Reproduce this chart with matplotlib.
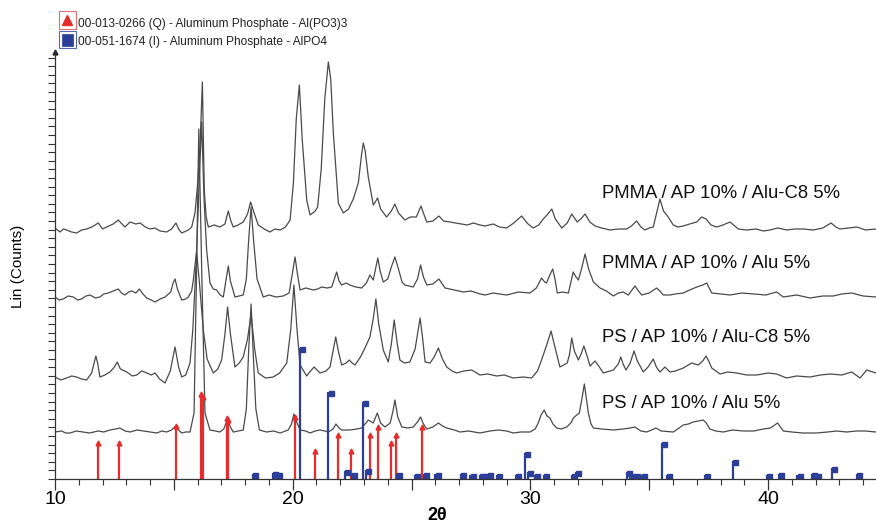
import numpy as np
import matplotlib
matplotlib.use('Agg')
import matplotlib.pyplot as plt
from matplotlib.patches import Rectangle
from matplotlib.lines import Line2D
from matplotlib.ticker import MultipleLocator
import matplotlib.transforms as mtrans

plt.rcParams['font.family'] = ['Liberation Sans', 'DejaVu Sans']

# ---- measured patterns: (2theta, Lin counts) ----
c1_x = [10.00, 10.21, 10.35, 10.49, 10.70, 10.91, 11.12, 11.33, 11.55, 11.82, 12.00, 12.17, 12.45, 12.66, 12.94,
        13.16, 13.40, 13.58, 13.80, 14.00, 14.20, 14.42, 14.70, 14.90, 15.09, 15.20, 15.33, 15.61, 15.75, 15.89,
        16.00, 16.10, 16.20, 16.28, 16.36, 16.45, 16.70, 16.94, 17.15, 17.29, 17.40, 17.50, 17.70, 17.92, 18.10,
        18.23, 18.35, 18.55, 18.80, 19.04, 19.25, 19.47, 19.70, 19.89, 20.03, 20.15, 20.28, 20.40, 20.59, 20.73,
        20.95, 21.05, 21.20, 21.35, 21.50, 21.60, 21.71, 21.92, 22.13, 22.35, 22.55, 22.76, 22.90, 22.97, 23.05,
        23.18, 23.39, 23.50, 23.57, 23.70, 23.95, 24.15, 24.30, 24.45, 24.72, 24.95, 25.20, 25.40, 25.50, 25.64,
        25.90, 26.15, 26.35, 26.62, 26.85, 27.11, 27.35, 27.60, 27.88, 28.10, 28.43, 28.70, 29.00, 29.30, 29.63,
        29.90, 30.12, 30.35, 30.54, 30.70, 30.90, 31.05, 31.32, 31.55, 31.74, 31.97, 32.12, 32.30, 32.50, 32.72,
        33.00, 33.35, 33.70, 34.05, 34.25, 34.47, 34.65, 34.82, 35.00, 35.17, 35.30, 35.45, 35.60, 35.80, 36.01,
        36.20, 36.43, 36.70, 37.00, 37.20, 37.39, 37.60, 37.84, 38.10, 38.40, 38.55, 38.75, 39.10, 39.50, 39.80,
        40.08, 40.40, 40.80, 41.10, 41.48, 41.90, 42.30, 42.65, 42.85, 43.02, 43.40, 43.73, 44.10, 44.54]
c1_y = [251, 247, 250, 249, 247, 246, 249, 250, 252, 256, 250, 252, 255, 259, 252,
        257, 255, 256, 252, 250, 251, 248, 247, 250, 256, 250, 246, 249, 252, 266,
        295, 332, 397, 289, 262, 252, 254, 252, 255, 268, 258, 252, 254, 257, 265,
        277, 268, 254, 250, 247, 250, 249, 252, 259, 296, 360, 394, 340, 279, 264,
        268, 272, 310, 380, 417, 400, 346, 276, 266, 270, 280, 296, 325, 336, 328,
        302, 274, 278, 281, 270, 262, 268, 275, 266, 259, 262, 262, 273, 266, 257,
        258, 263, 258, 257, 256, 255, 254, 256, 254, 253, 255, 252, 251, 256, 263,
        255, 251, 254, 260, 264, 270, 260, 251, 256, 265, 257, 260, 265, 257, 253,
        251, 249, 250, 250, 253, 258, 252, 249, 251, 252, 265, 280, 268, 262, 254,
        252, 253, 255, 257, 262, 260, 254, 252, 254, 257, 254, 250, 249, 250, 248,
        249, 251, 249, 250, 250, 249, 251, 256, 252, 250, 251, 252, 249, 250]

c2_x = [10.00, 10.18, 10.35, 10.55, 10.77, 10.95, 11.12, 11.30, 11.47, 11.70, 11.89, 12.05, 12.24, 12.45, 12.66,
        12.80, 12.94, 13.10, 13.23, 13.40, 13.55, 13.70, 13.86, 14.05, 14.21, 14.42, 14.63, 14.87, 14.97, 15.05,
        15.15, 15.33, 15.50, 15.61, 15.75, 15.82, 15.96, 16.07, 16.17, 16.27, 16.38, 16.52, 16.66, 16.80, 16.95,
        17.08, 17.20, 17.29, 17.38, 17.57, 17.75, 17.92, 18.05, 18.15, 18.25, 18.35, 18.50, 18.76, 19.00, 19.30,
        19.60, 19.85, 19.98, 20.10, 20.20, 20.31, 20.55, 20.87, 21.05, 21.22, 21.45, 21.64, 21.78, 21.85, 21.95,
        22.06, 22.25, 22.41, 22.65, 22.90, 23.10, 23.25, 23.39, 23.50, 23.58, 23.68, 23.81, 24.00, 24.15, 24.30,
        24.45, 24.60, 24.72, 25.07, 25.25, 25.38, 25.50, 25.64, 25.90, 26.15, 26.41, 26.80, 27.18, 27.50, 27.88,
        28.10, 28.44, 28.70, 29.00, 29.50, 29.98, 30.25, 30.47, 30.60, 30.68, 30.80, 30.94, 31.05, 31.13, 31.35,
        31.60, 31.80, 31.92, 32.02, 32.15, 32.30, 32.45, 32.65, 32.93, 33.20, 33.49, 33.70, 33.91, 34.12, 34.40,
        34.55, 34.68, 35.00, 35.31, 35.45, 35.59, 35.87, 36.10, 36.43, 36.70, 37.00, 37.25, 37.42, 37.50, 37.63,
        38.00, 38.40, 38.90, 39.38, 39.90, 40.20, 40.36, 40.64, 41.20, 41.76, 42.30, 42.74, 43.10, 43.52, 44.00,
        44.54]
c2_y = [182, 179, 180, 183, 182, 179, 180, 183, 184, 181, 182, 185, 186, 188, 190,
        186, 184, 187, 188, 186, 190, 185, 181, 179, 177, 180, 182, 187, 196, 200,
        190, 179, 180, 182, 188, 199, 229, 300, 357, 280, 229, 196, 190, 189, 184,
        182, 200, 213, 198, 182, 183, 184, 200, 240, 272, 240, 200, 182, 184, 182,
        183, 186, 205, 222, 205, 189, 191, 189, 190, 192, 191, 192, 202, 207, 198,
        194, 196, 194, 192, 191, 196, 204, 199, 212, 221, 208, 197, 200, 212, 222,
        210, 197, 194, 192, 200, 214, 202, 194, 195, 200, 191, 189, 187, 188, 185,
        184, 186, 185, 184, 187, 186, 191, 201, 197, 196, 203, 210, 198, 186, 187,
        186, 207, 202, 199, 210, 225, 210, 197, 191, 188, 183, 186, 187, 184, 193,
        188, 184, 186, 191, 188, 184, 184, 185, 186, 189, 192, 194, 196, 192, 186,
        185, 184, 186, 185, 184, 186, 187, 182, 184, 181, 183, 183, 185, 186, 183,
        182]

c3_x = [10.00, 10.25, 10.49, 10.70, 10.91, 11.12, 11.33, 11.54, 11.72, 11.80, 11.89, 12.10, 12.31, 12.50, 12.62,
        12.75, 13.02, 13.25, 13.44, 13.65, 13.86, 14.05, 14.21, 14.40, 14.63, 14.85, 15.05, 15.20, 15.33, 15.50,
        15.68, 15.80, 15.96, 16.08, 16.24, 16.40, 16.66, 16.85, 17.01, 17.15, 17.26, 17.38, 17.57, 17.75, 17.92,
        18.10, 18.25, 18.40, 18.55, 18.85, 19.18, 19.45, 19.75, 19.92, 20.05, 20.18, 20.31, 20.59, 20.75, 20.90,
        21.15, 21.40, 21.57, 21.70, 21.81, 21.92, 22.06, 22.25, 22.38, 22.50, 22.62, 22.85, 23.04, 23.25, 23.40,
        23.50, 23.62, 23.81, 24.02, 24.15, 24.27, 24.40, 24.51, 24.70, 24.93, 25.15, 25.36, 25.47, 25.57, 25.78,
        25.95, 26.13, 26.30, 26.48, 26.70, 26.90, 27.20, 27.53, 27.88, 28.20, 28.58, 28.90, 29.28, 29.70, 30.05,
        30.30, 30.47, 30.70, 30.87, 31.00, 31.24, 31.55, 31.65, 31.74, 31.85, 32.02, 32.15, 32.25, 32.40, 32.51,
        32.72, 32.90, 33.07, 33.49, 33.70, 33.80, 33.90, 34.02, 34.20, 34.36, 34.50, 34.75, 34.95, 35.17, 35.30,
        35.45, 35.66, 35.87, 36.10, 36.43, 36.79, 37.06, 37.25, 37.39, 37.50, 37.63, 37.98, 38.30, 38.68, 39.10,
        39.52, 40.00, 40.36, 40.78, 41.20, 41.76, 42.20, 42.60, 43.10, 43.52, 43.87, 44.15, 44.54]
c3_y = [102, 99, 101, 103, 102, 100, 99, 106, 123, 115, 102, 104, 107, 112, 117,
        110, 107, 103, 104, 108, 106, 104, 106, 100, 96, 108, 132, 112, 102, 104,
        116, 150, 227, 195, 149, 120, 106, 110, 119, 145, 172, 145, 112, 116, 122,
        140, 165, 130, 106, 101, 102, 106, 116, 150, 194, 150, 114, 103, 108, 112,
        106, 108, 112, 128, 142, 128, 114, 116, 119, 116, 114, 122, 131, 142, 162,
        180, 155, 129, 117, 135, 159, 135, 119, 116, 117, 130, 161, 140, 117, 116,
        122, 131, 120, 112, 108, 106, 108, 109, 104, 105, 103, 104, 101, 102, 101,
        108, 119, 135, 148, 135, 112, 116, 125, 141, 128, 119, 126, 133, 122, 113,
        118, 112, 106, 109, 115, 122, 115, 109, 116, 128, 118, 107, 112, 120, 112,
        107, 112, 107, 108, 111, 116, 114, 118, 123, 118, 111, 105, 107, 106, 104,
        104, 106, 105, 101, 103, 102, 104, 105, 104, 107, 101, 109, 106]

c4_x = [10.00, 10.28, 10.45, 10.63, 10.90, 11.19, 11.45, 11.82, 12.05, 12.31, 12.55, 12.73, 12.95, 13.16, 13.45,
        13.72, 14.00, 14.28, 14.50, 14.70, 14.90, 15.08, 15.20, 15.33, 15.50, 15.68, 15.85, 15.95, 16.05, 16.18,
        16.31, 16.52, 16.75, 16.94, 17.10, 17.26, 17.38, 17.50, 17.70, 17.92, 18.05, 18.15, 18.25, 18.35, 18.45,
        18.60, 18.90, 19.20, 19.47, 19.81, 19.95, 20.05, 20.15, 20.31, 20.55, 20.73, 20.95, 21.15, 21.35, 21.50,
        21.70, 21.82, 21.95, 22.06, 22.41, 22.70, 22.90, 23.08, 23.18, 23.39, 23.56, 23.70, 23.88, 24.10, 24.22,
        24.30, 24.42, 24.59, 24.85, 25.07, 25.25, 25.38, 25.50, 25.64, 25.90, 26.13, 26.30, 26.48, 26.80, 27.04,
        27.40, 27.88, 28.30, 28.65, 29.00, 29.28, 29.60, 29.98, 30.20, 30.33, 30.45, 30.58, 30.70, 30.82, 30.95,
        31.11, 31.30, 31.53, 31.70, 31.81, 31.95, 32.06, 32.18, 32.27, 32.36, 32.44, 32.55, 32.65, 33.00, 33.49,
        33.90, 34.20, 34.40, 34.65, 34.89, 35.10, 35.28, 35.50, 36.01, 36.20, 36.43, 36.65, 36.85, 37.05, 37.27,
        37.40, 37.55, 37.80, 38.12, 38.50, 38.96, 39.40, 39.80, 40.10, 40.40, 40.52, 40.64, 41.00, 41.48, 42.04,
        42.50, 42.88, 43.30, 43.73, 44.10, 44.54]
c4_y = [47, 48, 46, 46, 48, 47, 46, 48, 47, 49, 50, 51, 48, 47, 49,
        48, 47, 46, 48, 47, 49, 53, 49, 46, 47, 47, 66, 200, 350, 200,
        66, 49, 48, 47, 50, 60, 52, 47, 48, 49, 70, 130, 175, 120, 70,
        49, 47, 48, 46, 49, 55, 65, 58, 49, 48, 46, 48, 49, 48, 47,
        50, 55, 51, 49, 49, 50, 51, 56, 59, 56, 66, 56, 52, 56, 68,
        79, 62, 52, 51, 52, 57, 62, 55, 50, 52, 56, 53, 51, 49, 47,
        48, 46, 48, 49, 48, 46, 47, 47, 50, 56, 64, 69, 63, 61, 55,
        51, 50, 52, 56, 61, 64, 66, 82, 95, 80, 66, 55, 51, 50, 49,
        50, 51, 52, 48, 47, 49, 51, 48, 47, 50, 54, 55, 57, 58, 59,
        56, 50, 48, 47, 49, 48, 48, 50, 51, 56, 52, 48, 47, 46, 46,
        47, 48, 47, 48, 48, 47]

curve_labels = ['PMMA / AP 10% / Alu-C8 5%', 'PMMA / AP 10% / Alu 5%',
                'PS / AP 10% / Alu-C8 5%', 'PS / AP 10% / Alu 5%']
label_y = [286, 216, 141, 76]

# ---- reference patterns ----
q_pos = [11.82, 12.68, 15.09, 16.15, 16.22, 17.23, 17.29, 20.10, 20.95, 21.89, 22.45, 23.25, 23.60, 24.14, 24.35, 25.43]
q_int = [36, 36, 53, 85, 82, 61, 59, 62, 28, 44, 28, 44, 52, 36, 44, 52]
i_pos = [18.34, 19.18, 19.25, 19.34, 20.30, 21.50, 22.20, 22.48, 22.97, 23.08, 24.37, 25.14, 25.52, 26.00, 27.07,
         27.48, 27.88, 28.05, 28.20, 28.60, 29.40, 29.77, 29.91, 30.20, 30.58, 31.73, 31.93, 34.05, 34.19, 34.40,
         34.68, 35.52, 35.73, 37.35, 38.51, 39.94, 40.47, 41.23, 41.83, 42.00, 42.70, 43.73]
i_int = [5, 6, 5, 5, 131, 87, 8, 5, 77, 9, 5, 4, 5, 5, 5,
         4, 4, 4, 5, 4, 4, 26, 7, 4, 4, 4, 7, 7, 4, 4,
         4, 36, 4, 4, 18, 4, 5, 4, 5, 4, 11, 5]

legend_texts = ['00-013-0266 (Q) - Aluminum Phosphate - Al(PO3)3',
                '00-051-1674 (I) - Aluminum Phosphate - AlPO4']

W, H = 876, 528
fig = plt.figure(figsize=(W / 100, H / 100), dpi=100)
ax = fig.add_axes([55 / W, 1 - 479 / H, 1 - 55 / W, (479 - 52) / H])

line_col = '#4a4a4a'
for xs, ys in [(c1_x, c1_y), (c2_x, c2_y), (c3_x, c3_y), (c4_x, c4_y)]:
    ax.plot(xs, ys, color=line_col, lw=0.9)

red = '#e52d2d'
blue = '#2c3e98'
ax.vlines(q_pos, 0, q_int, color=red, lw=1.6)
ax.plot(q_pos, q_int, '^', color=red, ms=3.5, mec=red)
ax.vlines(i_pos, 0, i_int, color=blue, lw=1.6)
off = mtrans.offset_copy(ax.transData, fig=fig, x=2.2, y=-1.0, units='dots')
ax.plot(i_pos, i_int, 's', color=blue, ms=3.6, mec=blue, transform=off)

for lab, yy in zip(curve_labels, label_y):
    ax.text(33.0, yy, lab, fontsize=13.3, va='center', ha='left', color='#111111')

ax.set_xlim(10, 44.54)
ax.set_ylim(0, 427)
ax.spines['top'].set_visible(False)
ax.spines['right'].set_visible(False)
for s in ['left', 'bottom']:
    ax.spines[s].set_color('#333333')
    ax.spines[s].set_linewidth(0.9)

ax.xaxis.set_minor_locator(MultipleLocator(1))
ax.set_xticks([10, 15, 20, 25, 30, 35, 40])
ax.set_xticklabels(['10', '', '20', '', '30', '', '40'], fontsize=14)
ax.tick_params(axis='x', which='major', length=8, width=0.9, color='#333333', pad=1)
ax.tick_params(axis='x', which='minor', length=4, width=0.8, color='#333333')
ax.yaxis.set_major_locator(MultipleLocator(8.6))
ax.set_yticklabels([])
ax.tick_params(axis='y', which='major', length=5, width=0.8, color='#333333')
ax.plot([0], [1], marker='^', color='#222222', ms=3.5, transform=ax.transAxes, clip_on=False)

fig.text(437 / W, 1 - 515 / H, '2θ', fontsize=13, fontweight='bold', ha='center', va='center')
fig.text(18 / W, 1 - 266 / H, 'Lin (Counts)', fontsize=11, rotation=90, ha='center', va='center')

# legend boxes at the top
def fx(px):
    return px / W

def fy(py):
    return 1 - py / H

fig.add_artist(Rectangle((fx(58.5), fy(29.3)), 17.5 / W, 18.3 / H, transform=fig.transFigure,
                         fill=False, ec='#e07070', lw=0.8))
fig.add_artist(Line2D([fx(67)], [fy(20)], marker='^', color=red, ms=7, transform=fig.transFigure))
fig.add_artist(Rectangle((fx(58.5), fy(48.3)), 17.5 / W, 17.6 / H, transform=fig.transFigure,
                         fill=False, ec='#5a66b0', lw=0.8))
fig.add_artist(Rectangle((fx(61.5), fy(45.5)), 11.5 / W, 11.5 / H, transform=fig.transFigure,
                         fc=blue, ec=blue, lw=0.5))
fig.text(fx(78), fy(24), legend_texts[0], fontsize=8.6, va='center', ha='left', color='#222222')
fig.text(fx(78), fy(42.3), legend_texts[1], fontsize=8.6, va='center', ha='left', color='#222222')

plt.savefig('out.png', dpi=100)
